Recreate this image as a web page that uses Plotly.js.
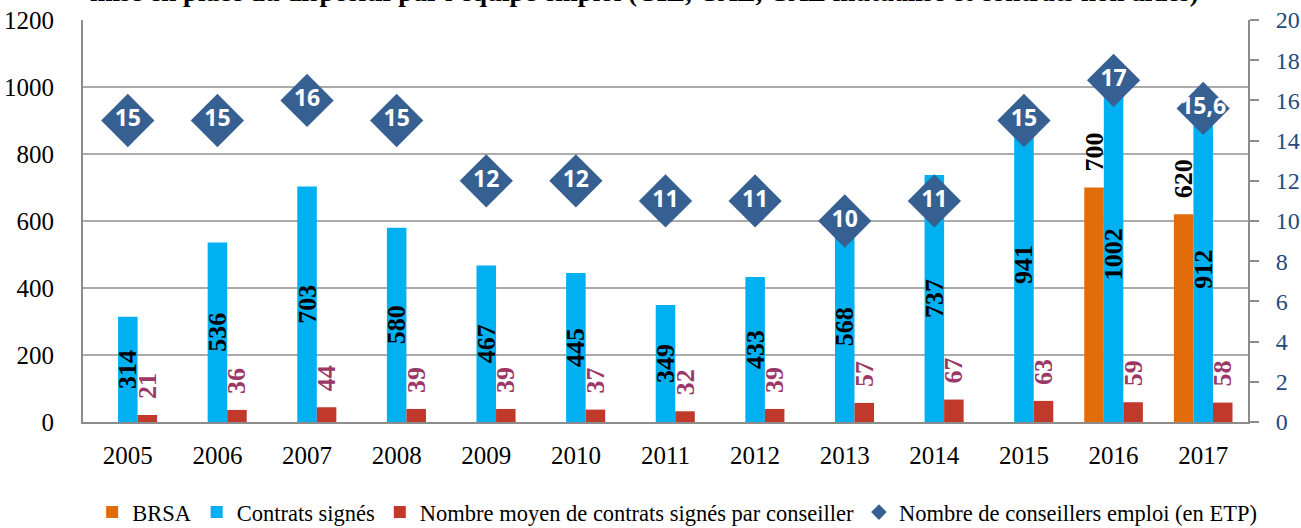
<!DOCTYPE html>
<html>
<head>
<meta charset="utf-8">
<script src="https://cdn.plot.ly/plotly-3.0.1.min.js"></script>
<style>html,body{margin:0;padding:0;background:#fff;}#chart{width:1301px;height:528px;}</style>
</head>
<body>
<div id="chart"></div>
<script>
const years = ['2005','2006','2007','2008','2009','2010','2011','2012','2013','2014','2015','2016','2017'];
const brsa = [null,null,null,null,null,null,null,null,null,null,null,700,620];
const contrats = [314,536,703,580,467,445,349,433,568,737,941,1002,912];
const moyenne = [21,36,44,39,39,37,32,39,57,67,63,59,58];
const conseillers = [15,15,16,15,12,12,11,11,10,11,15,17,15.6];
const conseillersLabels = ['15','15','16','15','12','12','11','11','10','11','15','17','15,6'];
const titleText = "mise en place du dispositif par l'équipe emploi (CIE, CAE, CAE mutualisé et contrats non aidés)";

const serif = 'Liberation Serif, Times New Roman, serif';
const pad = '\u00a0\u00a0';

const traces = [
  {
    type:'bar', name:'BRSA', x:years, y:brsa,
    marker:{color:'#E36C0A'},
    text: brsa.map(v => v==null ? '' : pad + v),
    textposition:'outside', textangle:-90, constraintext:'none', cliponaxis:false,
    textfont:{family:serif, size:26, color:'#000', weight:'bold'},
    hoverinfo:'skip'
  },
  {
    type:'bar', name:'Contrats signés', x:years, y:contrats,
    marker:{color:'#00B0F0'},
    text: contrats.map(String),
    textposition:'inside', insidetextanchor:'middle', textangle:-90, constraintext:'none',
    insidetextfont:{family:serif, size:26, color:'#000', weight:'bold'},
    hoverinfo:'skip'
  },
  {
    type:'bar', name:'Nombre moyen de contrats signés par conseiller', x:years, y:moyenne,
    marker:{color:'#C0392B'},
    text: moyenne.map(v => pad + v),
    textposition:'outside', textangle:-90, constraintext:'none', cliponaxis:false,
    textfont:{family:serif, size:26, color:'#9C3766', weight:'bold'},
    hoverinfo:'skip'
  },
  {
    type:'scatter', mode:'markers', name:'Nombre de conseillers emploi (en ETP)',
    x:years, y:conseillers, yaxis:'y2',
    marker:{symbol:'diamond', size:41, color:'#376092', line:{width:0}},
    cliponaxis:false, hoverinfo:'skip'
  },
  {
    type:'scatter', mode:'text', showlegend:false,
    x:years, y:conseillers, yaxis:'y2',
    text: conseillersLabels, textposition:'middle center',
    textfont:{family:'Open Sans, sans-serif', size:23, color:'#fff', weight:'bold'},
    cliponaxis:false, hoverinfo:'skip'
  }
];

const layout = {
  width:1301, height:528,
  margin:{l:83, r:53, t:20, b:106, autoexpand:false},
  paper_bgcolor:'#fff', plot_bgcolor:'#fff',
  barmode:'group', bargap:0.346, bargroupgap:0,
  showlegend:true,
  legend:{orientation:'h', x:0.51, xanchor:'center', y:-0.225, yanchor:'middle', itemsizing:'constant',
          font:{family:serif, size:22.5, color:'#000'}, itemwidth:30, traceorder:'normal'},
  xaxis:{
    type:'category', range:[-0.5, 12.5], autorange:false, showgrid:false, zeroline:false, automargin:false,
    showline:true, linecolor:'#8C8C8C', linewidth:2,
    ticks:'', ticklabelstandoff:10,
    tickfont:{family:serif, size:25, color:'#000'}
  },
  yaxis:{
    range:[0,1200], dtick:200, showgrid:true, gridcolor:'#ABABAB', gridwidth:2,
    zeroline:false, showline:true, linecolor:'#8C8C8C', linewidth:2, automargin:false,
    ticks:'', ticklabelstandoff:22,
    tickfont:{family:serif, size:25, color:'#000'}
  },
  yaxis2:{
    range:[0,20], dtick:2, overlaying:'y', side:'right', showgrid:false, zeroline:false,
    showline:true, linecolor:'#8C8C8C', linewidth:2, automargin:false,
    ticks:'outside', ticklen:9, tickwidth:2, tickcolor:'#8C8C8C', ticklabelstandoff:12,
    tickfont:{family:serif, size:24, color:'#1F497D'}
  },
  annotations:[{
    text:'<b>'+titleText+'</b>', xref:'paper', yref:'paper', x:0.482, y:1, xanchor:'center', yanchor:'bottom',
    yshift:11, showarrow:false, font:{family:serif, size:27, color:'#000'}
  }]
};

Plotly.newPlot('chart', traces, layout, {displayModeBar:false, staticPlot:true});
</script>
</body>
</html>
